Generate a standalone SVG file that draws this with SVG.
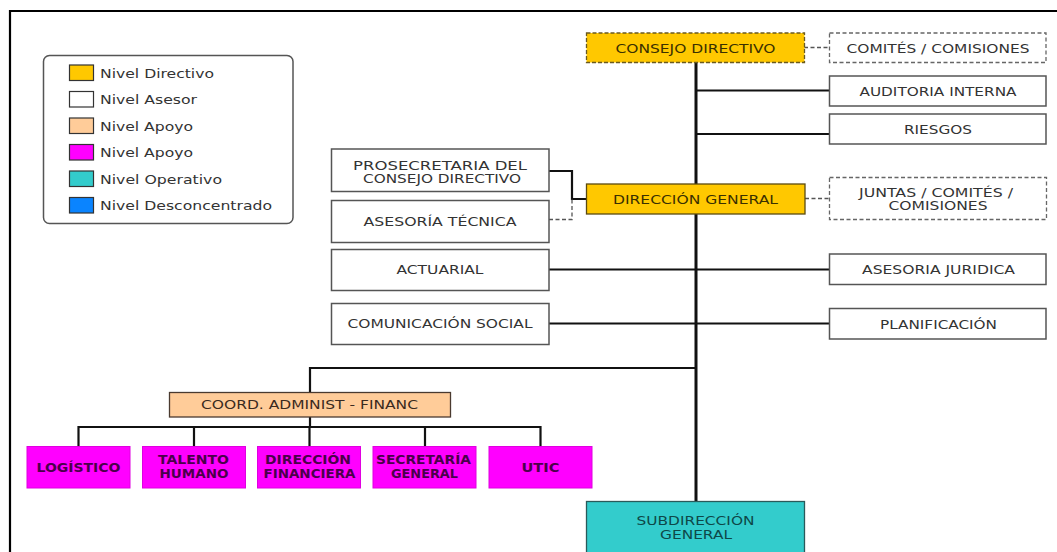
<svg xmlns="http://www.w3.org/2000/svg" width="1057" height="552" viewBox="0 0 1057 552">
<style>
text{font-family:"DejaVu Sans","Liberation Sans",sans-serif;font-size:12.5px;fill:#333;text-anchor:middle}
.lg{font-size:13px;text-anchor:start}
.box{fill:#fff;stroke:#555;stroke-width:1.5}
.dash{fill:#fff;stroke:#666;stroke-width:1.3;stroke-dasharray:4,2.5}
.dir{fill:#FFC800;stroke:#5a4a10;stroke-width:1.3}
.dird{fill:#FFC800;stroke:#6a5a20;stroke-width:1.3;stroke-dasharray:4,2}
.apo{fill:#FFCC99;stroke:#4a3a30;stroke-width:1.3}
.mag{fill:#FF00FF;stroke:#e000e0;stroke-width:1}
.ope{fill:#33CCCC;stroke:#2a5a5a;stroke-width:1.3}
.mt{font-weight:bold;font-size:11.5px;fill:#4a004a}
.ot{fill:#0e4848}
.ln{fill:none;stroke:#111;stroke-width:2.2}
.lnd{fill:none;stroke:#555;stroke-width:1.3;stroke-dasharray:4,2.5}
</style>
<rect width="1057" height="552" fill="#fff"/>
<path d="M10,553 V11 H1058" fill="none" stroke="#000" stroke-width="2.2"/>
<g id="legend">
<rect x="43.5" y="55.5" width="249.5" height="168" rx="6" fill="#fff" stroke="#555" stroke-width="1.5"/>
<rect x="69.5" y="65" width="24" height="15.5" fill="#FFC800" stroke="#333" stroke-width="1.2"/>
<rect x="69.5" y="91.5" width="24" height="15.5" fill="#fff" stroke="#333" stroke-width="1.2"/>
<rect x="69.5" y="118" width="24" height="15.5" fill="#FFCC99" stroke="#333" stroke-width="1.2"/>
<rect x="69.5" y="144.5" width="24" height="15.5" fill="#FF00FF" stroke="#333" stroke-width="1.2"/>
<rect x="69.5" y="171" width="24" height="15.5" fill="#33CCCC" stroke="#333" stroke-width="1.2"/>
<rect x="69.5" y="197.5" width="24" height="15.5" fill="#0A84FF" stroke="#333" stroke-width="1.2"/>
<text class="lg" x="100" y="77.5" textLength="114" lengthAdjust="spacingAndGlyphs">Nivel Directivo</text>
<text class="lg" x="100" y="104" textLength="97" lengthAdjust="spacingAndGlyphs">Nivel Asesor</text>
<text class="lg" x="100" y="130.5" textLength="93" lengthAdjust="spacingAndGlyphs">Nivel Apoyo</text>
<text class="lg" x="100" y="157" textLength="93" lengthAdjust="spacingAndGlyphs">Nivel Apoyo</text>
<text class="lg" x="100" y="183.5" textLength="122" lengthAdjust="spacingAndGlyphs">Nivel Operativo</text>
<text class="lg" x="100" y="210" textLength="172" lengthAdjust="spacingAndGlyphs">Nivel Desconcentrado</text>
</g>
<g id="connectors">
<path class="ln" d="M696,62 V502" style="stroke-width:3"/>
<path class="ln" d="M696,90.5 H830"/>
<path class="ln" d="M696,134 H830"/>
<path class="ln" d="M549,269.5 H830"/>
<path class="ln" d="M549,323.5 H830"/>
<path class="ln" d="M549,171 H572 V199 H587"/>
<path class="lnd" d="M549,219.5 H572 V199"/>
<path class="lnd" d="M804,47.5 H830"/>
<path class="lnd" d="M805,198.5 H830"/>
<path class="ln" d="M696,368 H310 V393"/>
<path class="ln" d="M310,417 V427"/>
<path class="ln" d="M78.5,447 V427 H540.5 V447"/>
<path class="ln" d="M194,427 V447 M309.5,427 V447 M425,427 V447"/>
</g>
<g id="consejo-directivo">
<rect class="dird" x="586.5" y="33" width="218" height="29.5"/>
<text x="695.5" y="52.5" textLength="160" lengthAdjust="spacingAndGlyphs" style="fill:#3a3000">CONSEJO DIRECTIVO</text>
</g>
<g id="comites-comisiones">
<rect class="dash" x="829.5" y="33" width="216.5" height="29.5"/>
<text x="938" y="52.5" textLength="183" lengthAdjust="spacingAndGlyphs">COMITÉS / COMISIONES</text>
</g>
<g id="auditoria-interna">
<rect class="box" x="829.5" y="76" width="216.5" height="30"/>
<text x="938" y="95.5" textLength="157" lengthAdjust="spacingAndGlyphs">AUDITORIA INTERNA</text>
</g>
<g id="riesgos">
<rect class="box" x="829.5" y="114" width="216.5" height="30"/>
<text x="938" y="133.5" textLength="68" lengthAdjust="spacingAndGlyphs">RIESGOS</text>
</g>
<g id="prosecretaria">
<rect class="box" x="331.5" y="149" width="217.5" height="42.5"/>
<text x="440" y="169.5" textLength="174" lengthAdjust="spacingAndGlyphs">PROSECRETARIA DEL</text>
<text x="442" y="182.5" textLength="158" lengthAdjust="spacingAndGlyphs">CONSEJO DIRECTIVO</text>
</g>
<g id="asesoria-tecnica">
<rect class="box" x="331.5" y="200.5" width="217.5" height="42"/>
<text x="440" y="226" textLength="153" lengthAdjust="spacingAndGlyphs">ASESORÍA TÉCNICA</text>
</g>
<g id="direccion-general">
<rect class="dir" x="586.5" y="184" width="218.5" height="30"/>
<text x="695.5" y="203.5" textLength="165" lengthAdjust="spacingAndGlyphs" style="fill:#3a3000">DIRECCIÓN GENERAL</text>
</g>
<g id="juntas-comites-comisiones">
<rect class="dash" x="829.5" y="177.5" width="217" height="42"/>
<text x="936" y="197" textLength="154" lengthAdjust="spacingAndGlyphs">JUNTAS / COMITÉS /</text>
<text x="938" y="210" textLength="99" lengthAdjust="spacingAndGlyphs">COMISIONES</text>
</g>
<g id="actuarial">
<rect class="box" x="331.5" y="249.5" width="217.5" height="41"/>
<text x="440" y="274" textLength="87" lengthAdjust="spacingAndGlyphs">ACTUARIAL</text>
</g>
<g id="comunicacion-social">
<rect class="box" x="331.5" y="303.5" width="217.5" height="41"/>
<text x="440" y="328" textLength="185" lengthAdjust="spacingAndGlyphs">COMUNICACIÓN SOCIAL</text>
</g>
<g id="asesoria-juridica">
<rect class="box" x="829.5" y="254" width="216.5" height="30.5"/>
<text x="938.5" y="274" textLength="153" lengthAdjust="spacingAndGlyphs">ASESORIA JURIDICA</text>
</g>
<g id="planificacion">
<rect class="box" x="829.5" y="308.5" width="216.5" height="30.5"/>
<text x="938.5" y="328.5" textLength="117" lengthAdjust="spacingAndGlyphs">PLANIFICACIÓN</text>
</g>
<g id="coord-administ-financ">
<rect class="apo" x="169.5" y="392.5" width="281" height="24.5"/>
<text x="309.5" y="409" textLength="217" lengthAdjust="spacingAndGlyphs" style="fill:#3a2a20">COORD. ADMINIST - FINANC</text>
</g>
<g id="logistico">
<rect class="mag" x="27" y="446.5" width="103" height="41.5"/>
<text class="mt" x="78.5" y="471.5" textLength="84" lengthAdjust="spacingAndGlyphs">LOGÍSTICO</text>
</g>
<g id="talento-humano">
<rect class="mag" x="142.5" y="446.5" width="103" height="41.5"/>
<text class="mt" x="193.5" y="464" textLength="71" lengthAdjust="spacingAndGlyphs">TALENTO</text>
<text class="mt" x="194" y="478" textLength="69" lengthAdjust="spacingAndGlyphs">HUMANO</text>
</g>
<g id="direccion-financiera">
<rect class="mag" x="257.5" y="446.5" width="103" height="41.5"/>
<text class="mt" x="308" y="464" textLength="86" lengthAdjust="spacingAndGlyphs">DIRECCIÓN</text>
<text class="mt" x="309.5" y="478" textLength="92" lengthAdjust="spacingAndGlyphs">FINANCIERA</text>
</g>
<g id="secretaria-general">
<rect class="mag" x="373" y="446.5" width="103" height="41.5"/>
<text class="mt" x="423.5" y="464" textLength="95" lengthAdjust="spacingAndGlyphs">SECRETARÍA</text>
<text class="mt" x="424.5" y="478" textLength="67" lengthAdjust="spacingAndGlyphs">GENERAL</text>
</g>
<g id="utic">
<rect class="mag" x="489" y="446.5" width="103" height="41.5"/>
<text class="mt" x="540.5" y="471.5" textLength="38" lengthAdjust="spacingAndGlyphs">UTIC</text>
</g>
<g id="subdireccion-general">
<rect class="ope" x="586.5" y="501.5" width="218" height="60"/>
<text class="ot" x="695.5" y="525" textLength="118" lengthAdjust="spacingAndGlyphs">SUBDIRECCIÓN</text>
<text class="ot" x="696" y="539" textLength="72" lengthAdjust="spacingAndGlyphs">GENERAL</text>
</g>
</svg>
